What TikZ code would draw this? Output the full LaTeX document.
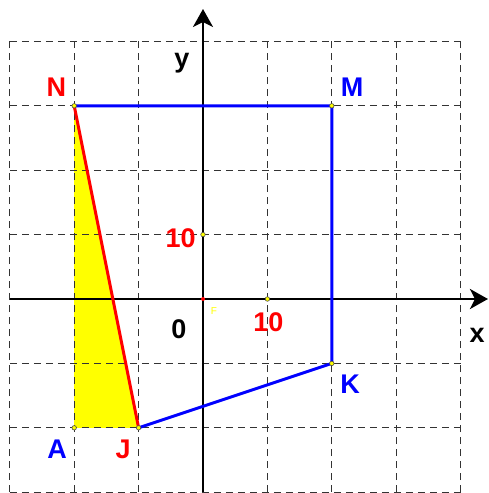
\documentclass[tikz,border=0pt]{standalone}
\usepackage{fontspec}
\setmainfont{Liberation Sans}
\usetikzlibrary{arrows.meta}
\definecolor{gblue}{HTML}{0000FF}
\definecolor{gred}{HTML}{FF0000}
\definecolor{gyellow}{HTML}{FFFF00}
\begin{document}
\begin{tikzpicture}[
 x=64.4pt,y=64.4pt,
 gridline/.style={draw=black!80,line width=1pt,dash pattern=on 7.5pt off 4.5pt},
 axis/.style={-{Stealth[length=18pt,width=20pt,inset=5pt]},line width=2.8pt,draw=black},
 side/.style={line width=3pt,draw=gblue},
 redside/.style={line width=3pt,draw=gred},
 dot/.style={circle,draw=black!70,fill=gyellow,inner sep=0pt,minimum size=4.5pt,line width=0.6pt},
 lbl/.style={font=\fontsize{27}{30}\selectfont\bfseries,anchor=base,inner sep=0pt}]
\useasboundingbox (-203pt,-194pt) rectangle (285pt,299pt);
% points of the figure
\coordinate (N) at (-2,3);
\coordinate (M) at (2,3);
\coordinate (K) at (2,-1);
\coordinate (J) at (-1,-2);
\coordinate (A) at (-2,-2);
\coordinate (O) at (0,0);
\coordinate (xl) at (-3,0); \coordinate (xr) at (4.425,0);
\coordinate (yb) at (0,-3); \coordinate (yt) at (0,4.503);
\fill[gyellow] (N)--(A)--(J)--cycle;
\draw[gridline,step=64.4pt] (-3,-3) grid (4,4);
\draw[axis] (xl)--(xr);
\draw[axis] (yb)--(yt);
\draw[side] (N)--(M)--(K)--(J);
\draw[redside] (N)--(J);
% marked points
\foreach \p in {N,M,K,J,A} \node[dot] at (\p) {};
\node[dot] (t1) at (0,1) {};
\node[dot] (t2) at (1,0) {};
\node[circle,fill=gred,inner sep=0pt,minimum size=4pt] (o) at (O) {};
% labels
\node[lbl,text=gred] (lN) at (-2.275,3.137) {N};
\node[lbl,text=gblue] (lM) at (2.314,3.137) {M};
\node[lbl,text=gblue] (lK) at (2.283,-1.475) {K};
\node[lbl,text=gblue] (lA) at (-2.267,-2.469) {A};
\node[lbl,text=gred] (lJ) at (-1.242,-2.469) {J};
\node[lbl] (ly) at (-0.326,3.602) {y};
\node[lbl] (lx) at (4.255,-0.668) {x};
\node[lbl] (l0) at (-0.373,-0.621) {0};
\node[lbl,text=gred] (l10y) at (-0.349,0.807) {10};
\node[lbl,text=gred] (l10x) at (1.017,-0.497) {10};
\node[anchor=base,inner sep=0pt,font=\fontsize{10}{10}\selectfont,text=gyellow] (lF) at (0.171,-0.233) {F};
\end{tikzpicture}
\end{document}
